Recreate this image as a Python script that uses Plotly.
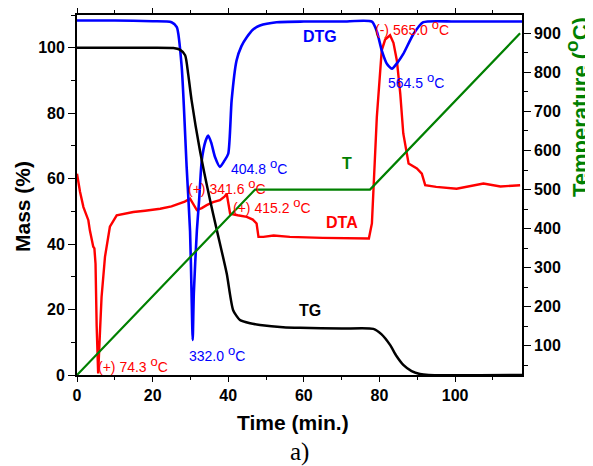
import plotly.graph_objects as go

# ---- data ----
tg_time = [0, 10, 20, 25.5, 27.2, 28.6, 29.4, 30.3, 32.5, 35.2, 37, 39.6, 41.3, 43.1, 45.8, 48.4, 54.5, 59, 70, 78.4,
           80.5, 82.8, 84.5, 86.3, 88.5, 90.7, 93, 117.7]
tg_mass = [100, 100, 100, 99.9, 99.4, 97.7, 92, 84, 68.7, 53.4, 44.2, 31, 19.8, 16.8, 15.8, 15.3, 14.6, 14.4, 14.2,
           14.1, 12.5, 9.2, 5.8, 3.1, 1.2, 0.3, 0, 0]

dtg_time = [0, 10, 20, 25, 26.4, 27.7, 29, 29.9, 30.3, 30.6, 30.9, 31.7, 32.3, 33, 34, 34.7, 35.5, 36.5, 37.8, 39,
            40, 40.9, 42.2, 43.5, 44.9, 46.5, 48.4, 52.8, 60, 70, 78, 79.3, 80.6, 82, 83.3, 84.8, 86.3, 89, 91.6,
            100, 117.7]
dtg_val = [108.3, 108.3, 108.1, 107.8, 106.3, 94, 63.6, 44, 25, 10.7, 25, 44, 53.4, 65.6, 71.5, 73.2, 71, 66.6,
           63.6, 65.5, 67.6, 83.9, 96.1, 100.5, 103.2, 105.5, 106.8, 107.8, 108, 108, 108, 105, 99.2, 95, 93.6,
           95.5, 98.1, 104.2, 107.8, 108, 108]

dta_time = [0, 0.8, 1.7, 3, 3.4, 4.3, 4.6, 4.9, 5.2, 5.6, 6.1, 6.5, 7.4, 8.3, 8.7, 10.5, 14.9, 18, 22, 25, 27.2,
            28.5, 29.9, 30.8, 31.7, 33, 34.3, 36, 37.8, 39, 39.6, 40.1, 40.5, 42.5, 44.9, 46.5, 47.5, 48, 49.3,
            52, 56.3, 65, 70, 77.2, 78, 78.6, 79.3, 80.6, 81.5, 82.8, 83.7, 84.6, 85.5, 86.3, 87.7, 89.9, 91.2,
            92.1, 95, 100.4, 104, 107.5, 112, 117.2]
dta_val = [61.5, 56, 51.3, 47.3, 44.2, 39.2, 38.7, 34, 15, 0.5, 13.7, 23.9, 36.1, 43.2, 45.3, 48.8, 49.8, 50.2,
           50.8, 51.5, 52.4, 53, 53.9, 52, 50.4, 51, 51.9, 52.8, 53.4, 54.5, 55.4, 52, 49.3, 48.8, 48.3, 47.5,
           46.3, 42.2, 42.2, 42.6, 42.2, 41.9, 41.9, 41.7, 46.3, 60, 78.8, 99.2, 102.5, 103.8, 101.5, 96.1, 86,
           73.8, 64.6, 63.1, 61.5, 58, 57.5, 56.9, 57.8, 58.5, 57.6, 58]

temp_time = [0, 47.1, 77.5, 117.2]
temp_val = [25, 500, 500, 900]

x_ticks = [0, 20, 40, 60, 80, 100]
mass_ticks = [0, 20, 40, 60, 80, 100]
temp_ticks = [100, 200, 300, 400, 500, 600, 700, 800, 900]

DEG = "<sup><span style='font-size:13px'>o</span></sup>C"

# labels: (text, time, value, colour, bold, anchor)
labels = [
    ("DTG", 64.3, 103.4, "#0000FF", True, "center"),
    ("T", 71.3, 64.6, "#008000", True, "center"),
    ("DTA", 70.2, 46.5, "#FF0000", True, "center"),
    ("TG", 61.6, 19.8, "#000000", True, "center"),
    ("404.8 " + DEG, 40.3, 63.6, "#0000FF", False, "left"),
    ("(+) 341.6 " + DEG, 28.8, 57.5, "#FF0000", False, "left"),
    ("(+) 415.2 " + DEG, 40.7, 51.9, "#FF0000", False, "left"),
    ("(-) 565.0 " + DEG, 78.2, 106.3, "#FF0000", False, "left"),
    ("564.5 " + DEG, 81.7, 90.0, "#0000FF", False, "left"),
    ("332.0 " + DEG, 29.0, 6.6, "#0000FF", False, "left"),
    ("(+) 74.3 " + DEG, 5.0, 3.1, "#FF0000", False, "left"),
]

FONT = "Liberation Sans, Arial, sans-serif"

fig = go.Figure()
fig.add_trace(go.Scatter(x=dta_time, y=dta_val, mode="lines", line=dict(color="#FF0000", width=2.4), name="DTA"))
fig.add_trace(go.Scatter(x=dtg_time, y=dtg_val, mode="lines",
                         line=dict(color="#0000FF", width=2.6, shape="spline", smoothing=0.6), name="DTG"))
fig.add_trace(go.Scatter(x=tg_time, y=tg_mass, mode="lines",
                         line=dict(color="#000000", width=2.5, shape="spline", smoothing=0.6), name="TG"))
fig.add_trace(go.Scatter(x=temp_time, y=temp_val, mode="lines", line=dict(color="#008000", width=2.2),
                         name="T", yaxis="y2"))

tickfont = dict(family=FONT, size=16, color="black", weight="bold")

# the page body adds an 8 px offset, so the figure is 8 px smaller in each direction
fig.update_layout(
    width=585, height=458,
    margin=dict(l=69, r=71, t=7, b=91, autoexpand=False),
    paper_bgcolor="white", plot_bgcolor="white",
    showlegend=False,
    xaxis=dict(range=[0, 117.7], tickvals=x_ticks, ticks="outside", ticklen=5, tickwidth=1.3,
               minor=dict(dtick=10, tick0=0, ticks="outside", ticklen=3, tickwidth=1.2, tickcolor="black"),
               showline=True, linecolor="black", linewidth=1.8, mirror="ticks", showgrid=False, zeroline=False,
               tickfont=tickfont, tickcolor="black", automargin=False),
    yaxis=dict(range=[0, 110], tickvals=mass_ticks, ticks="outside", ticklen=7, tickwidth=1.3,
               minor=dict(dtick=10, tick0=0, ticks="outside", ticklen=4, tickwidth=1.2, tickcolor="black"),
               showline=True, linecolor="black", linewidth=1.8, showgrid=False, zeroline=False,
               tickfont=tickfont, tickcolor="black", automargin=False),
    yaxis2=dict(range=[25, 947], tickvals=temp_ticks, overlaying="y", side="right", ticks="outside", ticklen=7,
                tickwidth=1.3,
                minor=dict(dtick=50, tick0=0, ticks="outside", ticklen=4, tickwidth=1.2, tickcolor="black"),
                showline=True, linecolor="black", linewidth=1.8, showgrid=False, zeroline=False,
                tickfont=tickfont, tickcolor="black", automargin=False),
)

annotations = []
for text, t, v, col, bold, anchor in labels:
    annotations.append(dict(x=t, y=v, xref="x", yref="y", text=text, showarrow=False, xanchor=anchor,
                            yanchor="middle",
                            font=dict(family=FONT, size=16 if bold else 14, color=col,
                                      weight="bold" if bold else "normal")))
annotations.append(dict(x=-0.121, y=0.467, xref="paper", yref="paper", text="Mass (%)", textangle=-90,
                        showarrow=False, xanchor="center", yanchor="middle",
                        font=dict(family=FONT, size=21, color="black", weight="bold")))
annotations.append(dict(x=1.124, y=0.745, xref="paper", yref="paper",
                        text="Temperature (<sup><span style='font-size:19px'>o</span></sup>C)",
                        textangle=-90, showarrow=False, xanchor="center", yanchor="middle",
                        font=dict(family=FONT, size=22, color="#008000", weight="bold")))
annotations.append(dict(x=0.485, y=-0.133, xref="paper", yref="paper", text="Time (min.)", showarrow=False,
                        xanchor="center", yanchor="middle",
                        font=dict(family=FONT, size=21, color="black", weight="bold")))
annotations.append(dict(x=0.501, y=-0.214, xref="paper", yref="paper", text="a)", showarrow=False,
                        xanchor="center", yanchor="middle",
                        font=dict(family="Liberation Serif, Times New Roman, serif", size=25, color="black")))
fig.update_layout(annotations=annotations)

fig.write_html("out.html")
